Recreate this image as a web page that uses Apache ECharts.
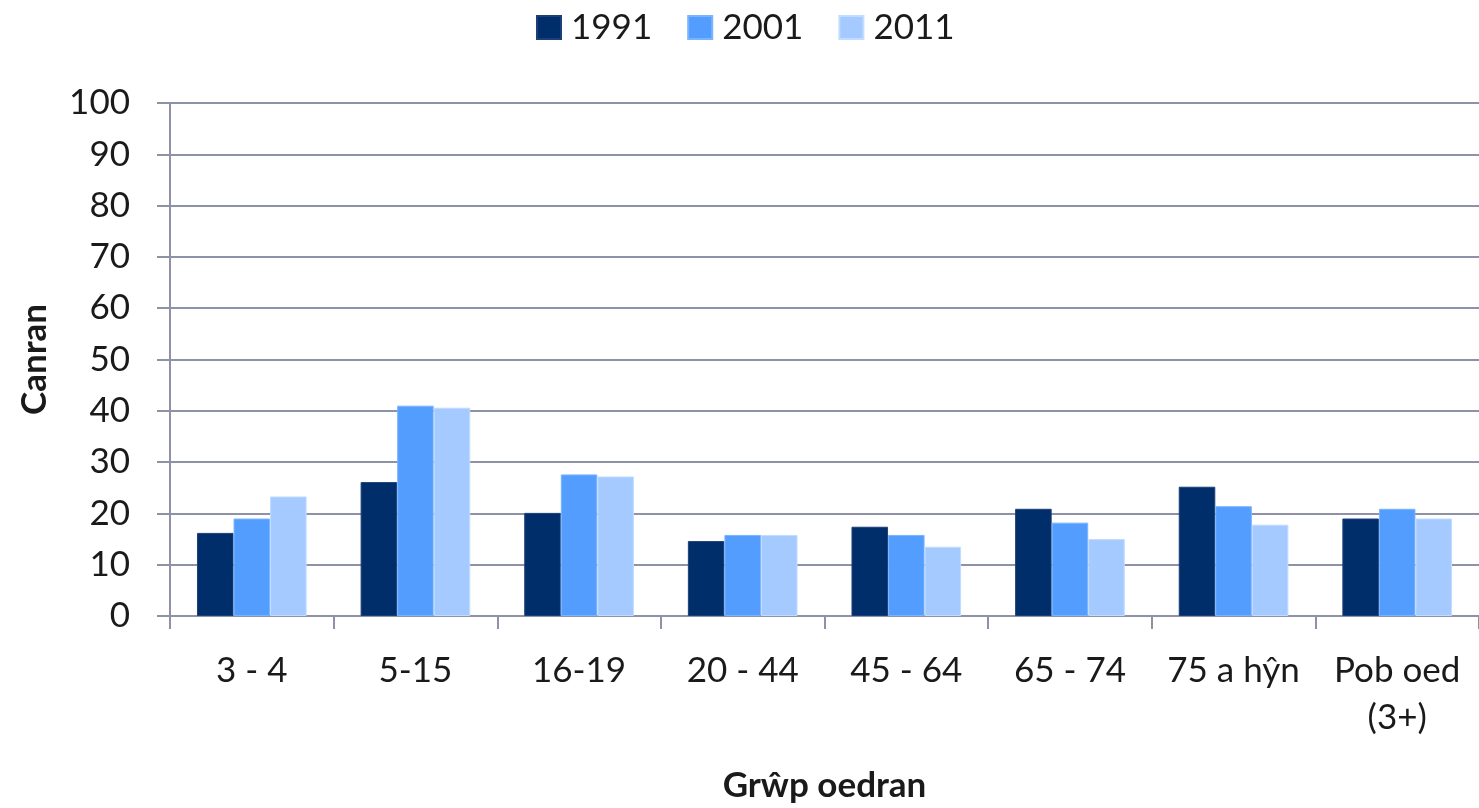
<!DOCTYPE html>
<html>
<head>
<meta charset="UTF-8">
<title>Grwp oedran</title>
<style>
    body{ margin:0; background-color:#ffffff; }
    #main{ width:1479px; height:808px; }
</style>
<script src="https://cdn.jsdelivr.net/npm/echarts@6/dist/echarts.min.js"></script>
</head>
<body>
<div id="main"></div>
<script type="text/javascript">
    // data
    var categories = ['3 - 4', '5-15', '16-19', '20 - 44', '45 - 64', '65 - 74', '75 a hŷn', 'Pob oed\n(3+)'];
    var years = ['1991', '2001', '2011'];
    var values1991 = [16.2, 26.1, 20.1, 14.6, 17.4, 20.9, 25.2, 19.0];
    var values2001 = [19.0, 41.0, 27.6, 15.8, 15.8, 18.2, 21.4, 20.9];
    var values2011 = [23.3, 40.6, 27.2, 15.8, 13.5, 15.0, 17.8, 19.0];
    var yTicks = [0, 10, 20, 30, 40, 50, 60, 70, 80, 90, 100];

    var font = 'Lato, "Open Sans", sans-serif';
    var lineColor = '#8e92a6';

    var myChart = echarts.init(document.getElementById('main'));

    var option = {
        backgroundColor: '#ffffff',
        animation: false,
        color: ['#002e6b', '#539dff', '#a4caff'],
        legend: {
            data: years,
            top: 5,
            left: 531,
            itemWidth: 24,
            itemHeight: 23,
            itemGap: 35,
            icon: 'rect',
            textStyle: { fontFamily: font, fontSize: 35, color: '#1a1a1a', padding: [0, 0, 0, 5] }
        },
        grid: {
            left: 170,
            right: 0,
            top: 103,
            bottom: 189
        },
        xAxis: {
            type: 'category',
            data: categories,
            name: 'Grŵp oedran',
            nameLocation: 'middle',
            nameGap: 152,
            nameTextStyle: { fontFamily: font, fontSize: 35, fontWeight: 'bold', color: '#1a1a1a' },
            axisLine: { lineStyle: { color: lineColor, width: 2 } },
            axisTick: { show: true, length: 13, lineStyle: { color: lineColor, width: 2 } },
            axisLabel: {
                margin: 31,
                fontFamily: font,
                fontSize: 35,
                lineHeight: 47,
                color: '#1a1a1a',
                interval: 0
            }
        },
        yAxis: {
            type: 'value',
            min: yTicks[0],
            max: yTicks[yTicks.length - 1],
            interval: 10,
            name: 'Canran',
            nameLocation: 'middle',
            nameGap: 118,
            nameTextStyle: { fontFamily: font, fontSize: 35, fontWeight: 'bold', color: '#1a1a1a' },
            axisLine: { show: true, lineStyle: { color: lineColor, width: 2 } },
            axisTick: { show: true, length: 13, lineStyle: { color: lineColor, width: 2 } },
            axisLabel: { margin: 40, fontFamily: font, fontSize: 35, color: '#1a1a1a' },
            splitLine: { show: true, lineStyle: { color: lineColor, width: 2 } }
        },
        series: [
            {
                name: years[0],
                type: 'bar',
                data: values1991,
                barGap: 0,
                barCategoryGap: '33%',
                itemStyle: { borderColor: '#1d3f78', borderWidth: 1 }
            },
            {
                name: years[1],
                type: 'bar',
                data: values2001,
                barGap: 0,
                barCategoryGap: '33%',
                itemStyle: { borderColor: '#7ab4ff', borderWidth: 1 }
            },
            {
                name: years[2],
                type: 'bar',
                data: values2011,
                barGap: 0,
                barCategoryGap: '33%',
                itemStyle: { borderColor: '#c2dcff', borderWidth: 1 }
            }
        ]
    };
    myChart.setOption(option);
</script>
</body>
</html>
